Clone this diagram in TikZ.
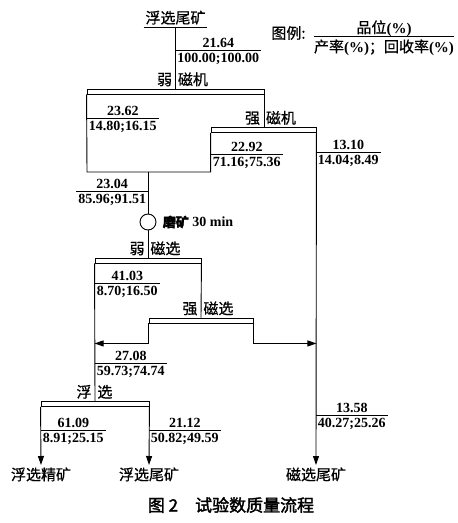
\documentclass[tikz,border=0pt]{standalone}
\usepackage{fontspec}
\usepackage{tikz}
\usetikzlibrary{arrows.meta,calc}
\setmainfont{Liberation Serif}
\newfontfamily\cjk[FakeBold=0.6]{Noto Sans CJK SC}
\newfontfamily\cjkbf[FakeBold=2]{Noto Sans CJK SC}
\newcommand{\pct}{{\rmfamily\bfseries(\%)}}
% grade on top of the line, yield;recovery below it
\newcommand{\gradelabel}[5]{%
  \node[datanum, anchor=north #2] (#1) at (#3) {#5};
  \draw (#1.north west) -- (#1.north east);
  \node[datanum, anchor=base, yshift=3pt] (#1-top) at (#1.north) {#4};
}

\begin{document}
\begin{tikzpicture}[x=1pt,y=-1pt,line width=0.9pt,
every node/.style={inner sep=0pt},
datanum/.style={font=\bfseries\fontsize{14}{15}\selectfont, inner xsep=1.5pt, inner ysep=3pt, text height=9.5pt, text depth=2.5pt},
cjklab/.style={font=\cjk\fontsize{15}{16}\selectfont},
sepbox/.style={draw, rectangle, minimum height=5pt},
flow/.style={-{Triangle[length=9pt,width=6pt]}}]
\useasboundingbox (0,0) rectangle (458,523);
% separators
\node[sepbox, minimum width=177pt] (wm) at (175.5,91.5) {};
\node[sepbox, minimum width=105pt] (sm) at (263.5,130) {};
\node[sepbox, minimum width=106pt] (ws) at (148,260.5) {};
\node[sepbox, minimum width=104pt] (ss) at (201,320.5) {};
\node[sepbox, minimum width=108pt] (fl) at (95,404) {};
\node[cjklab, anchor=base east] (wm-l) at ([xshift=-3pt,yshift=3.5pt]wm.north) {弱};
\node[cjklab, anchor=base west] (wm-r) at ([xshift=2pt,yshift=3.5pt]wm.north) {磁机};
\node[cjklab, anchor=base east] (sm-l) at ([xshift=-3pt,yshift=3.5pt]sm.north) {强};
\node[cjklab, anchor=base west] (sm-r) at ([xshift=2pt,yshift=3.5pt]sm.north) {磁机};
\node[cjklab, anchor=base east] (ws-l) at ([xshift=-3pt,yshift=3.5pt]ws.north) {弱};
\node[cjklab, anchor=base west] (ws-r) at ([xshift=2pt,yshift=3.5pt]ws.north) {磁选};
\node[cjklab, anchor=base east] (ss-l) at ([xshift=-3pt,yshift=3.5pt]ss.north) {强};
\node[cjklab, anchor=base west] (ss-r) at ([xshift=2pt,yshift=3.5pt]ss.north) {磁选};
\node[cjklab, anchor=base east] (fl-l) at ([xshift=-3pt,yshift=3.5pt]fl.north) {浮};
\node[cjklab, anchor=base west] (fl-r) at ([xshift=2pt,yshift=3.5pt]fl.north) {选};
% feed, mill and products
\node[cjklab, anchor=south, inner xsep=1.5pt, inner ysep=2pt] (feed) at (175.5,27) {浮选尾矿};
\node[draw, circle, minimum size=16pt] (mill) at (148,222) {};
\node[font=\bfseries\fontsize{14}{15}\selectfont, anchor=west] (mill-lab) at ([xshift=6pt]mill.east) {{\cjkbf\fontsize{13}{14}\selectfont 磨矿} 30 min};
\node[cjklab, anchor=north, inner ysep=2pt] (flconc) at (41,465) {浮选精矿};
\node[cjklab, anchor=north, inner ysep=2pt] (fltail) at (149,465) {浮选尾矿};
\node[cjklab, anchor=north, inner ysep=2pt] (magtail) at (316,465) {磁选尾矿};
\coordinate (wm-low) at (87,172);
% streams
\draw (feed.south west) -- (feed.south east);
\draw (feed.south) -- (wm.north);
\draw (wm.south west) -- (wm-low) -| (sm.south west);
\draw (wm.south east) -- (wm.south east |- sm.north);
\draw (mill.north) -- (mill.north |- wm-low);
\draw (mill.south) -- (ws.north);
\draw (ws.south west) -- (fl.north);
\draw (ws.south east) -- (ss.north);
\draw[flow] (ss.south west) -- ++(0,20) coordinate (ss-lo) -- (ss-lo -| ws.south west);
\draw[flow] (ss.south east) -- ++(0,20) coordinate (ss-ro) -- (ss-ro -| sm.south east);
\draw[flow] (sm.south east) -- (magtail.north);
\draw[flow] (fl.south west) -- (flconc.north);
\draw[flow] (fl.south east) -- (fltail.north);
% data
\gradelabel{d-feed}{west}{175.5,50}{21.64}{100.00;100.00}
\gradelabel{d-wmconc}{west}{87,118}{23.62}{14.80;16.15}
\gradelabel{d-smconc}{west}{211,154}{22.92}{71.16;75.36}
\gradelabel{d-smtail}{west}{316,152}{13.10}{14.04;8.49}
\gradelabel{d-mag}{east}{148,191}{23.04}{85.96;91.51}
\gradelabel{d-wsconc}{west}{95,283}{41.03}{8.70;16.50}
\gradelabel{d-flfeed}{west}{95,363}{27.08}{59.73;74.74}
\gradelabel{d-flconc}{west}{41,430}{61.09}{8.91;25.15}
\gradelabel{d-fltail}{west}{149,430}{21.12}{50.82;49.59}
\gradelabel{d-magtail}{west}{316,415}{13.58}{40.27;25.26}
% legend
\node[cjklab, anchor=east] (legend) at (306,33) {图例:};
\node[cjklab, anchor=north, inner ysep=3pt] (leg-bot) at (384,36) {产率\pct；回收率\pct};
\draw (leg-bot.north west) -- (leg-bot.north east);
\node[cjklab, anchor=base, yshift=3pt] (leg-top) at (leg-bot.north) {品位\pct};
\node[font=\cjkbf\fontsize{17}{18}\selectfont] (caption) at (231,505) {图 2\hspace{1em}试验数质量流程};
\end{tikzpicture}
\end{document}
